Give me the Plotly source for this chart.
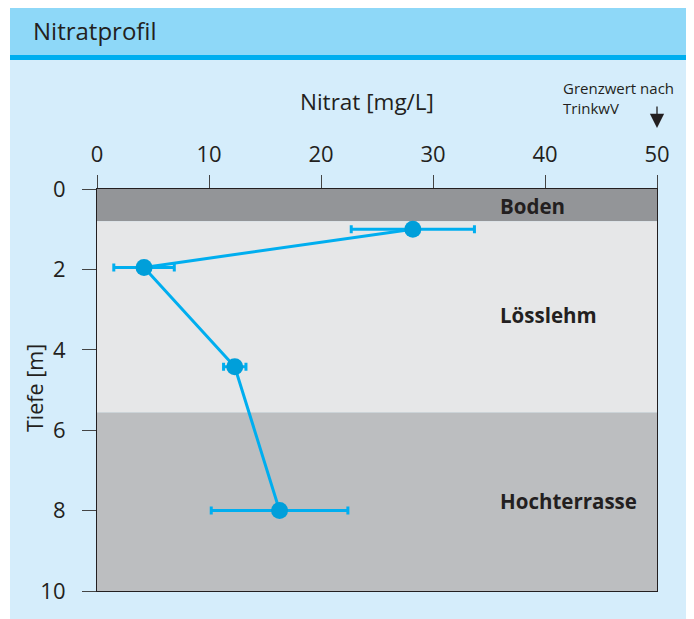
import plotly.graph_objects as go

# Data
nitrat = [28.2, 4.2, 12.3, 16.3]          # mg/L
tiefe = [1.0, 1.95, 4.42, 8.0]            # m
fehler = [5.5, 2.7, 1.0, 6.1]             # mg/L (± error)
schicht_namen = ["Boden", "Lösslehm", "Hochterrasse"]
schicht_oben = [0.0, 0.8, 5.56]
schicht_unten = [0.8, 5.56, 10.0]
schicht_farben = ["#939598", "#E6E7E8", "#BCBEC0"]
label_tiefe = [0.43, 3.14, 7.77]
x_ticks = [0, 10, 20, 30, 40, 50]
y_ticks = [0, 2, 4, 6, 8, 10]

OFF = 8  # page body margin
W, H = 694 - OFF, 619 - OFF
L, R, T, B = 97 - OFF, 657 - OFF, 189 - OFF, 591 - OFF
FONT = "Open Sans"

def px(x):
    return (x - OFF - L) / (R - L)

def py(y):
    return (B - (y - OFF)) / (B - T)

fig = go.Figure()

fig.add_trace(go.Scatter(
    x=nitrat, y=tiefe, mode="lines+markers",
    line=dict(color="#00AEEF", width=3),
    marker=dict(color="#009FDA", size=17),
    error_x=dict(type="data", array=fehler, symmetric=True,
                 color="#00AEEF", thickness=3, width=4),
    showlegend=False, cliponaxis=False,
))

shapes = [
    dict(type="rect", xref="paper", yref="paper", x0=px(10), x1=px(700), y0=py(0), y1=py(55),
         fillcolor="#8ED8F8", line=dict(width=0), layer="below"),
    dict(type="rect", xref="paper", yref="paper", x0=px(10), x1=px(700), y0=py(55), y1=py(60),
         fillcolor="#00AEEF", line=dict(width=0), layer="below"),
    dict(type="rect", xref="paper", yref="paper", x0=px(10), x1=px(700), y0=py(60), y1=py(630),
         fillcolor="#D5EDFB", line=dict(width=0), layer="below"),
]
for top, bot, col in zip(schicht_oben, schicht_unten, schicht_farben):
    shapes.append(dict(type="rect", xref="x", yref="y", x0=0, x1=50, y0=top, y1=bot,
                       fillcolor=col, line=dict(width=0), layer="below"))

annotations = [
    dict(text="Nitratprofil", xref="paper", yref="paper", x=px(31), y=py(31),
         xanchor="left", yanchor="middle", showarrow=False,
         font=dict(family=FONT, size=24, color="#231F20")),
    dict(text="Nitrat [mg/L]", xref="paper", yref="paper", x=px(367), y=py(102),
         xanchor="center", yanchor="middle", showarrow=False,
         font=dict(family=FONT, size=22.5, color="#231F20")),
    dict(text="Tiefe [m]", xref="paper", yref="paper", x=px(34), y=py(388),
         xanchor="center", yanchor="middle", showarrow=False, textangle=-90,
         font=dict(family=FONT, size=21.5, color="#231F20")),
    dict(text="Grenzwert nach<br>TrinkwV", xref="paper", yref="paper", x=px(561), y=py(98),
         xanchor="left", yanchor="middle", align="left", showarrow=False,
         font=dict(family=FONT, size=15, color="#231F20")),
    dict(text="", xref="x", yref="paper", x=50, y=py(128), ax=0, ay=-23,
         showarrow=True, arrowhead=2, arrowsize=2.2, arrowwidth=1.3, arrowcolor="#231F20"),
]
for name, yl in zip(schicht_namen, label_tiefe):
    annotations.append(dict(text="<b>%s</b>" % name, xref="x", yref="y", x=35.8, y=yl,
                            xanchor="left", yanchor="middle", showarrow=False,
                            font=dict(family=FONT, size=20.5, color="#231F20")))

axis_common = dict(showgrid=False, zeroline=False, showline=True, linecolor="#231F20",
                   linewidth=1.2, mirror=True, ticks="outside", tickcolor="#444",
                   tickwidth=1.2, tickfont=dict(family=FONT, size=22, color="#231F20"))

fig.update_layout(
    width=W, height=H,
    margin=dict(l=L, r=W - R, t=T, b=H - B, pad=0),
    paper_bgcolor="white", plot_bgcolor="rgba(0,0,0,0)",
    xaxis=dict(range=[0, 50], side="top", tickvals=x_ticks, ticklen=13,
               ticklabelstandoff=4, **axis_common),
    yaxis=dict(range=[10, 0], tickvals=y_ticks, ticklen=14, ticklabelstandoff=12, **axis_common),
    shapes=shapes, annotations=annotations,
)

fig.write_html("out.html")
